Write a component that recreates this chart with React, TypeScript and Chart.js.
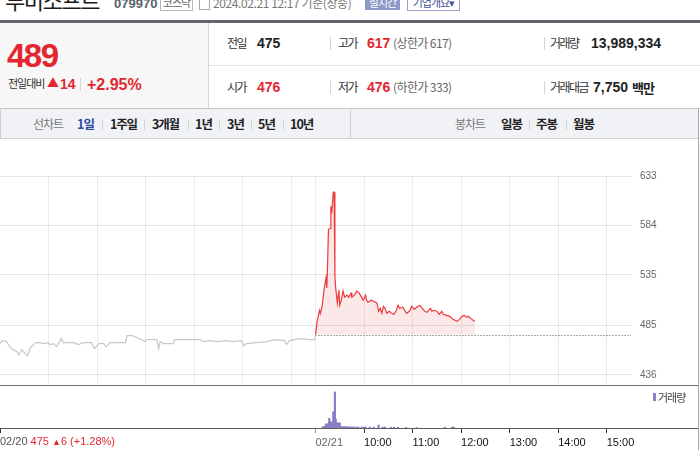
import React, { useEffect, useRef } from 'react';
import { Chart, registerables } from 'chart.js';
Chart.register(...registerables);

// ---------- data ----------
const SESSION = 390; // minutes in one trading session (09:00-15:30)
const prevMinutes = [0,3,8,12,16,21,23,27,31,34,37,41,45,49,54,58,62,66,70,76,78,82,91,97,103,113,117,122,128,131,136,144,155,157,163,169,175,179,181,192,194,196,198,202,214,216,231,247,251,260,268,280,288,299,301,305,317,330,338,352,354,358,371,383,389,390];
const prevPrices = [467,470,469,464,461,459,456,461,457,455,462,466,468,468,467,468,466,467,464,472,468,468,468,466,468,468,462,467,467,464,468,468,468,475,475,473,471,469,471,471,471,462,469,467,467,471,471,471,469,470,469,470,469,470,465,467,468,469,471,470,466,470,472,471,471,475];
const todayMinutes = [0,2,5,6,8,11,13,14,15,16,18,19,20,22,23,24,25,27,29,30,32,34,36,39,41,44,45,48,51,54,57,59,62,63,65,69,74,76,78,80,82,84,86,88,91,94,97,100,102,104,108,111,113,117,119,122,125,129,132,135,138,142,144,146,150,153,156,158,162,166,170,175,178,181,184,187,189,192,195,197];
const todayPrices = [476,489,500,497,503,523,532,522,547,580,581,603,596,617,617,533,522,507,520,505,510,519,513,515,513,517,513,515,519,517,513,510,515,510,508,510,508,507,499,502,497,504,502,497,499,497,496,500,505,502,503,499,497,500,504,501,503,505,502,499,498,502,499,500,499,496,499,496,495,494,491,489,491,494,495,493,494,492,490,489];
const prevClose = 475;
const openPrice = 476;
const volMinutes = [9,10,12,13,14,15,17,19,20,22,23,24,25,27,28,29,30,31,33,35,36,38,40,42,44,46,48,51,53,57,60,62,67,72,78,83,86,93,97,102,112,125,160,169,171];
const volValues = [130000,130000,200000,400000,380000,420000,970000,630000,500000,1630000,900000,3600000,900000,530000,500000,480000,500000,150000,130000,130000,120000,130000,110000,100000,100000,90000,110000,100000,90000,100000,80000,110000,90000,80000,300000,90000,100000,80000,90000,70000,60000,50000,80000,90000,80000];
const priceTicks = [436, 485, 535, 584, 633];
const gridMinutes = [60,120,180,240,300,360,390,450,510,570,630,690,750];
const timeTickMinutes = [0,390,450,510,570,630,690,750];
const timeTickLabels = ['', '02/21', '10:00', '11:00', '12:00', '13:00', '14:00', '15:00'];

const KR = '"Noto Sans CJK KR", "Noto Sans", sans-serif';
const LS = '"Liberation Sans", Arial, sans-serif';
const RED = '#e3262f';

const Txt = ({ x, cy, size, children, color = '#333', weight = 400, family = KR, ls = 0 }: any) => {
  const lh = Math.round(size * 1.3);
  return (
    <div style={{ position: 'absolute', left: x, top: cy - lh / 2, height: lh, lineHeight: lh + 'px', fontSize: size, color, fontWeight: weight, fontFamily: family, letterSpacing: ls, whiteSpace: 'nowrap' }}>{children}</div>
  );
};
const Box = ({ x, y, w, h, bg, style }: any) => (
  <div style={{ position: 'absolute', left: x, top: y, width: w, height: h, background: bg, ...(style || {}) }} />
);
const Sep = ({ x, cy, h = 12 }: any) => <Box x={x} y={cy - h / 2} w={1} h={h} bg="#d3d3d3" />;

export default function App() {
  const priceRef = useRef<HTMLCanvasElement>(null);
  const volRef = useRef<HTMLCanvasElement>(null);

  useEffect(() => {
    const price = new Chart(priceRef.current!, {
      type: 'line',
      data: {
        datasets: [
          { data: prevMinutes.map((m, i) => ({ x: m, y: prevPrices[i] })), borderColor: '#c6c7cd', borderWidth: 1.2, pointRadius: 0, fill: false, tension: 0 },
          { data: todayMinutes.map((m, i) => ({ x: SESSION + m, y: todayPrices[i] })), borderColor: '#ee3a3a', borderWidth: 1.2, pointRadius: 0, fill: { value: openPrice }, backgroundColor: 'rgba(232,80,80,0.13)', tension: 0 },
          { data: [{ x: SESSION, y: prevClose }, { x: SESSION * 2, y: prevClose }], borderColor: '#555', borderWidth: 1, borderDash: [1, 2], pointRadius: 0, fill: false },
        ],
      } as any,
      options: {
        animation: false, responsive: false, maintainAspectRatio: false,
        layout: { padding: { top: 26, left: 0, right: 0, bottom: 0 } },
        plugins: { legend: { display: false }, tooltip: { enabled: false } },
        scales: {
          x: {
            type: 'linear', min: 0, max: SESSION * 2,
            afterBuildTicks: (s: any) => { s.ticks = gridMinutes.map(v => ({ value: v })); },
            ticks: { display: false },
            grid: { color: '#ececec', drawTicks: false, lineWidth: 1 },
            border: { display: false },
            afterFit: (s: any) => { s.height = 0; s.paddingLeft = 0; s.paddingRight = 0; },
          },
          y: {
            position: 'right', min: 426, max: 633,
            afterBuildTicks: (s: any) => { s.ticks = priceTicks.map(v => ({ value: v })); },
            ticks: { color: '#666', font: { size: 10, family: LS }, padding: 9, autoSkip: false },
            grid: { color: '#e6e6e6', drawTicks: false },
            border: { display: false },
            afterFit: (s: any) => { s.width = 67; s.paddingTop = 0; s.paddingBottom = 0; },
          },
        },
      } as any,
    });

    const vol = new Chart(volRef.current!, {
      type: 'bar',
      data: {
        datasets: [
          { data: volMinutes.map((m, i) => ({ x: SESSION + m, y: volValues[i] })), backgroundColor: '#8c7cc4', barThickness: 1.5, grouped: false },
        ],
      } as any,
      options: {
        animation: false, responsive: false, maintainAspectRatio: false,
        layout: { padding: { top: 0, left: 0, right: 67, bottom: 0 } },
        plugins: { legend: { display: false }, tooltip: { enabled: false } },
        scales: {
          x: {
            type: 'linear', min: 0, max: SESSION * 2, offset: false,
            afterBuildTicks: (s: any) => { s.ticks = timeTickMinutes.map(v => ({ value: v })); },
            ticks: {
              align: 'start', padding: 3, maxRotation: 0, autoSkip: false,
              color: (c: any) => (c.index === 1 ? '#666' : '#111'),
              font: { size: 11, family: LS },
              callback: (_v: any, i: number) => timeTickLabels[i],
            },
            grid: { drawOnChartArea: false, drawTicks: true, tickLength: 5, offset: false, tickColor: (c: any) => (c.index === 1 ? '#999' : '#333') },
            border: { display: false },
            afterFit: (s: any) => { s.height = 22; s.paddingLeft = 0; s.paddingRight = 0; },
          },
          y: { display: false, min: 0, max: 4200000 },
        },
      } as any,
    });

    return () => { price.destroy(); vol.destroy(); };
  }, []);

  return (
    <div style={{ position: 'absolute', left: 0, top: 0, width: 700, height: 450, overflow: 'hidden', background: '#fff', fontFamily: KR }}>
      {/* header row */}
      <Txt x={5} cy={-1} size={22} color="#1a1a1a" ls={-1.4}>투비소프트</Txt>
      <Txt x={114} cy={3} size={13} weight={700} family={LS} color="#5a5f6b">079970</Txt>
      <div style={{ position: 'absolute', left: 160, top: -6, width: 31, height: 15, border: '1px solid #b8b8b8', fontSize: 11, color: '#666', lineHeight: '15px', textAlign: 'center', letterSpacing: -1 }}>코스닥</div>
      <div style={{ position: 'absolute', left: 199, top: -2, width: 9, height: 10, border: '1px solid #aaa' }} />
      <Txt x={213} cy={3} size={12} color="#7a7a7a" ls={-0.4}>2024.02.21 12:17 기준(장중)</Txt>
      <div style={{ position: 'absolute', left: 365, top: -6, width: 35, height: 16, background: '#8d99c9', color: '#fff', fontSize: 11, lineHeight: '16px', textAlign: 'center', letterSpacing: -1 }}>실시간</div>
      <div style={{ position: 'absolute', left: 407, top: -6, width: 51, height: 15, border: '1px solid #9aa4d0', color: '#44549a', fontSize: 11, lineHeight: '15px', textAlign: 'center', letterSpacing: -1, background: '#fff' }}>기업개요▾</div>
      <Box x={0} y={20} w={700} h={3} bg="#62656c" />

      {/* info panel */}
      <Box x={0} y={23} w={208} h={85} bg="#f7f7f7" style={{ borderRight: '1px solid #d6d6d6' }} />
      <Txt x={7} cy={55} size={33} weight={700} family={LS} color={RED} ls={-1.5}>489</Txt>
      <Txt x={8} cy={83} size={11} color="#333" ls={-1}>전일대비</Txt>
      <Txt x={47} cy={83} size={12} color={RED}>▲</Txt>
      <Txt x={60} cy={84} size={14} weight={700} family={LS} color={RED}>14</Txt>
      <Sep x={80} cy={84} h={13} />
      <Txt x={87} cy={84} size={16} weight={700} family={LS} color={RED}>+2.95%</Txt>

      <Txt x={227} cy={43} size={12} color="#333" ls={-1.5}>전일</Txt>
      <Txt x={257} cy={43} size={14} weight={700} family={LS} color="#222">475</Txt>
      <Sep x={330} cy={43} h={13} />
      <Txt x={338} cy={43} size={12} color="#333" ls={-1.5}>고가</Txt>
      <Txt x={367} cy={43} size={14} weight={700} family={LS} color={RED}>617</Txt>
      <Txt x={393} cy={43} size={12} color="#666" ls={-0.6}>(상한가 617)</Txt>
      <Sep x={544} cy={43} h={13} />
      <Txt x={550} cy={43} size={12} color="#333" ls={-1.5}>거래량</Txt>
      <Txt x={591} cy={43} size={14} weight={700} family={LS} color="#222">13,989,334</Txt>

      <Box x={209} y={65} w={491} h={1} bg="#e6e6e6" />

      <Txt x={227} cy={87} size={12} color="#333" ls={-1.5}>시가</Txt>
      <Txt x={257} cy={87} size={14} weight={700} family={LS} color={RED}>476</Txt>
      <Sep x={330} cy={87} h={13} />
      <Txt x={338} cy={87} size={12} color="#333" ls={-1.5}>저가</Txt>
      <Txt x={367} cy={87} size={14} weight={700} family={LS} color={RED}>476</Txt>
      <Txt x={393} cy={87} size={12} color="#666" ls={-0.6}>(하한가 333)</Txt>
      <Sep x={544} cy={87} h={13} />
      <Txt x={550} cy={87} size={12} color="#333" ls={-1.5}>거래대금</Txt>
      <Txt x={593} cy={87} size={14} weight={700} family={LS} color="#222">7,750</Txt>
      <Txt x={632} cy={87} size={13} weight={700} color="#222" ls={-1}>백만</Txt>

      <Box x={0} y={108} w={700} h={1} bg="#c4c4c8" />

      {/* tab bar */}
      <Box x={0} y={109} w={698} h={30} bg="#f1f2f6" style={{ borderBottom: '1px solid #cfd0d5', borderLeft: '1px solid #cfd0d5', boxSizing: 'border-box' }} />
      <Txt x={33} cy={124} size={12} color="#777" ls={-1}>선차트</Txt>
      <Txt x={77} cy={124} size={12.5} weight={700} color="#2b4aa0" ls={-1}>1일</Txt>
      <Sep x={102} cy={124} h={11} />
      <Txt x={110} cy={124} size={12.5} weight={700} color="#222" ls={-1.2}>1주일</Txt>
      <Sep x={144} cy={124} h={11} />
      <Txt x={152} cy={124} size={12.5} weight={700} color="#222" ls={-1.2}>3개월</Txt>
      <Sep x={188} cy={124} h={11} />
      <Txt x={195} cy={124} size={12.5} weight={700} color="#222" ls={-1}>1년</Txt>
      <Sep x={219} cy={124} h={11} />
      <Txt x={227} cy={124} size={12.5} weight={700} color="#222" ls={-1}>3년</Txt>
      <Sep x={251} cy={124} h={11} />
      <Txt x={258} cy={124} size={12.5} weight={700} color="#222" ls={-1}>5년</Txt>
      <Sep x={283} cy={124} h={11} />
      <Txt x={290} cy={124} size={12.5} weight={700} color="#222" ls={-1}>10년</Txt>
      <Box x={350} y={109} w={1} h={30} bg="#cfd0d5" />
      <Txt x={455} cy={124} size={12} color="#777" ls={-1}>봉차트</Txt>
      <Txt x={501} cy={124} size={12.5} weight={700} color="#222" ls={-1}>일봉</Txt>
      <Sep x={529} cy={124} h={11} />
      <Txt x={536} cy={124} size={12.5} weight={700} color="#222" ls={-1}>주봉</Txt>
      <Sep x={566} cy={124} h={11} />
      <Txt x={573} cy={124} size={12.5} weight={700} color="#222" ls={-1}>월봉</Txt>

      {/* charts */}
      <canvas ref={priceRef} width={698} height={235} style={{ position: 'absolute', left: 0, top: 150, width: 698, height: 235 }} />
      <Box x={0} y={385} w={698} h={1} bg="#707070" />
      <canvas ref={volRef} width={698} height={64} style={{ position: 'absolute', left: 0, top: 386, width: 698, height: 64 }} />
      <Box x={0} y={428} w={698} h={1} bg="#5a5a5a" />
      <Box x={698} y={109} w={1} h={341} bg="#a6a6a6" />

      {/* volume legend */}
      <Box x={653} y={393} w={3} h={8} bg="#8f80c4" />
      <Txt x={658} cy={397} size={11} color="#444" ls={-1}>거래량</Txt>

      {/* previous day label */}
      <div style={{ position: 'absolute', left: 0, top: 434, height: 14, lineHeight: '14px', fontSize: 11, fontFamily: LS, whiteSpace: 'nowrap' }}>
        <span style={{ color: '#555' }}>02/20</span>
        <span style={{ color: RED }}> 475 <span style={{ fontSize: 9 }}>▲</span>6 (+1.28%)</span>
      </div>
    </div>
  );
}
